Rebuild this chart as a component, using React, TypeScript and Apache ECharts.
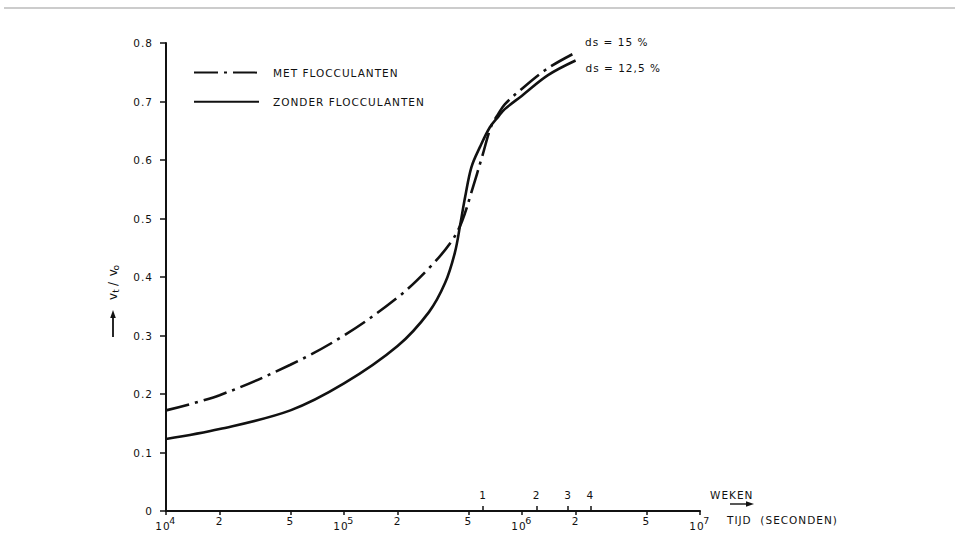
import React, { useEffect, useRef } from "react";
import * as echarts from "echarts";

// Time in seconds and v_t/v_o values
const metSeconds = [1e4, 2e4, 5e4, 1e5, 2e5, 3e5, 4e5, 4.6e5, 5.2e5, 6e5, 6.7e5, 7.4e5, 8e5, 1e6, 1.4e6, 2.04e6];
const metValues = [0.172, 0.198, 0.25, 0.3, 0.365, 0.415, 0.46, 0.495, 0.545, 0.608, 0.657, 0.68, 0.695, 0.722, 0.757, 0.785];

const zonderSeconds = [1e4, 2e4, 5e4, 1e5, 2e5, 3e5, 3.7e5, 4.2e5, 4.5e5, 4.8e5, 5.2e5, 5.8e5, 6.6e5, 7.4e5, 8e5, 1e6, 1.4e6, 2e6];
const zonderValues = [0.123, 0.14, 0.172, 0.218, 0.282, 0.34, 0.39, 0.442, 0.49, 0.538, 0.588, 0.622, 0.656, 0.675, 0.687, 0.71, 0.745, 0.77];

const timeTicks = [1e4, 2e4, 5e4, 1e5, 2e5, 5e5, 1e6, 2e6, 5e6, 1e7];
const weekTicks = [1, 2, 3, 4];
const SECONDS_PER_WEEK = 604800;

const seriesNames = ["MET FLOCCULANTEN", "ZONDER FLOCCULANTEN"];
const endLabels = ["ds = 15 %", "ds = 12,5 %"];

const FONT = "DejaVu Sans";
const INK = "#111";
const FS = 10.5;

export default function App() {
  const ref = useRef<HTMLDivElement>(null);

  useEffect(() => {
    if (!ref.current) return;
    const chart = echarts.init(ref.current, undefined, { renderer: "svg" });
    const lg = (s: number) => Math.log10(s);

    const option: any = {
      animation: false,
      backgroundColor: "#fff",
      textStyle: { fontFamily: FONT, color: INK },
      grid: { left: 166, top: 43, width: 534, height: 468, containLabel: false },
      legend: {
        orient: "vertical",
        left: 193,
        top: 67,
        padding: 0,
        itemWidth: 65,
        itemHeight: 14,
        itemGap: 18,
        data: seriesNames,
        itemStyle: { opacity: 0 },
        textStyle: { fontFamily: FONT, fontSize: FS, color: INK, padding: [0, 0, 0, 9] },
      },
      xAxis: [
        {
          type: "value",
          min: 4,
          max: 7,
          position: "bottom",
          splitLine: { show: false },
          axisLine: { lineStyle: { color: INK, width: 2 } },
          axisTick: {
            customValues: timeTicks.map(lg),
            length: 4,
            lineStyle: { color: INK, width: 1.5 },
          },
          axisLabel: {
            customValues: timeTicks.map(lg),
            margin: 4,
            color: INK,
            fontSize: FS,
            fontFamily: FONT,
            formatter: (v: number) => {
              const e = Math.floor(v + 1e-9);
              const m = Math.round(Math.pow(10, v - e));
              return m === 1 ? `{b|10}{s|${e}}` : `{b|${m}}`;
            },
            rich: {
              b: { fontSize: FS, fontFamily: FONT, color: INK, verticalAlign: "bottom" },
              s: { fontSize: 9.5, fontFamily: FONT, color: INK, padding: [0, 0, 6, 0], verticalAlign: "bottom" },
            },
          },
          name: "TIJD  (SECONDEN)",
          nameLocation: "end",
          nameGap: 27,
          nameTextStyle: { fontFamily: FONT, fontSize: FS, color: INK, verticalAlign: "top", padding: [3, 0, 0, 0] },
        },
        {
          type: "value",
          min: 4,
          max: 7,
          position: "bottom",
          offset: 0,
          splitLine: { show: false },
          axisLine: { show: false },
          axisTick: {
            inside: true,
            customValues: weekTicks.map((w) => lg(w * SECONDS_PER_WEEK)),
            length: 5,
            lineStyle: { color: INK, width: 1.5 },
          },
          axisLabel: {
            inside: true,
            customValues: weekTicks.map((w) => lg(w * SECONDS_PER_WEEK)),
            margin: 11,
            color: INK,
            fontSize: FS,
            fontFamily: FONT,
            formatter: (v: number) => String(Math.round(Math.pow(10, v) / SECONDS_PER_WEEK)),
          },
          name: "WEKEN",
          nameLocation: "end",
          nameGap: 10,
          nameTextStyle: { fontFamily: FONT, fontSize: FS, color: INK, verticalAlign: "bottom", padding: [0, 0, 11, 0] },
        },
      ],
      yAxis: {
        type: "value",
        min: 0,
        max: 0.8,
        interval: 0.1,
        splitLine: { show: false },
        axisLine: { lineStyle: { color: INK, width: 2 } },
        axisTick: { length: 6, lineStyle: { color: INK, width: 1.5 } },
        axisLabel: {
          margin: 13,
          color: INK,
          fontSize: FS,
          fontFamily: FONT,
          formatter: (v: number) => (v === 0 ? "0" : v.toFixed(1)),
        },
      },
      series: [
        {
          name: seriesNames[0],
          type: "line",
          xAxisIndex: 0,
          symbol: "none",
          smooth: 0.35,
          lineStyle: { color: INK, width: 2.6, type: [24, 6, 3, 6] },
          itemStyle: { color: INK },
          data: metSeconds.map((s, i) => [lg(s), metValues[i]]),
          endLabel: {
            show: true,
            formatter: endLabels[0],
            offset: [0, -10],
            color: INK,
            fontSize: FS,
            fontFamily: FONT,
          },
        },
        {
          name: seriesNames[1],
          type: "line",
          xAxisIndex: 0,
          symbol: "none",
          smooth: 0.35,
          lineStyle: { color: INK, width: 2.6, type: "solid" },
          itemStyle: { color: INK },
          data: zonderSeconds.map((s, i) => [lg(s), zonderValues[i]]),
          endLabel: {
            show: true,
            formatter: endLabels[1],
            offset: [2, 7],
            color: INK,
            fontSize: FS,
            fontFamily: FONT,
          },
        },
      ],
      graphic: [
        // scan border line at top
        { type: "line", shape: { x1: 4, y1: 8, x2: 955, y2: 8 }, style: { stroke: "#999", lineWidth: 1 } },
        // y-axis name: arrow + v_t / v_o
        { type: "line", shape: { x1: 113, y1: 337, x2: 113, y2: 315 }, style: { stroke: INK, lineWidth: 1.8 } },
        { type: "polygon", shape: { points: [[113, 310], [110.2, 318], [115.8, 318]] }, style: { fill: INK } },
        {
          type: "text",
          x: 113,
          y: 282,
          rotation: Math.PI / 2,
          style: {
            text: "v{s|t} / v{s|o}",
            fontFamily: FONT,
            fontSize: 12,
            fill: INK,
            align: "center",
            verticalAlign: "middle",
            rich: { s: { fontSize: 9, fontFamily: FONT, fill: INK, padding: [5, 0, 0, 0] } },
          },
        },
        // arrow above "TIJD"
        { type: "line", shape: { x1: 730, y1: 504, x2: 748, y2: 504 }, style: { stroke: INK, lineWidth: 1.4 } },
        { type: "polygon", shape: { points: [[754, 504], [746, 501.2], [746, 506.8]] }, style: { fill: INK } },
      ],
    };

    chart.setOption(option);
    return () => chart.dispose();
  }, []);

  return (
    <>
      <style>{`#resketch-chart svg text { letter-spacing: 1px; }`}</style>
      <div
        id="resketch-chart"
        ref={ref}
        style={{ position: "fixed", left: 0, top: 0, width: 955, height: 553, background: "#fff" }}
      />
    </>
  );
}
